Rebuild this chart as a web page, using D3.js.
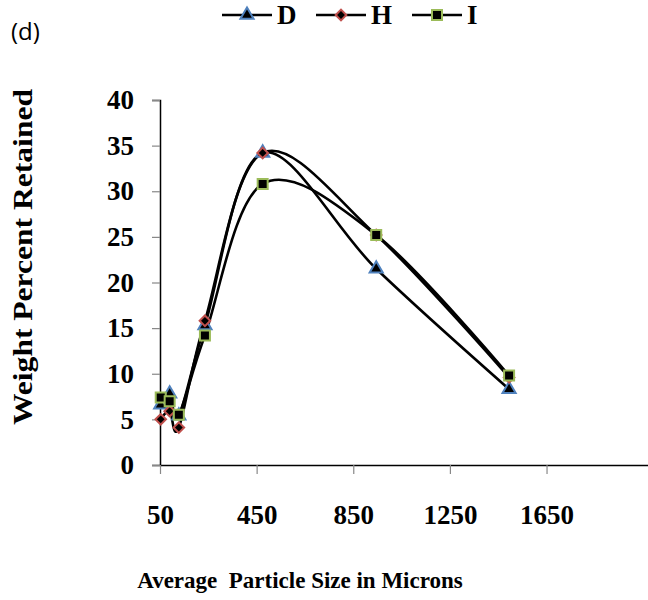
<!DOCTYPE html>
<html>
<head>
<meta charset="utf-8">
<script src="https://cdn.jsdelivr.net/npm/d3@7"></script>
<style>
  html, body { margin: 0; padding: 0; background: #fff; }
  svg { display: block; }
</style>
</head>
<body>
<svg id="chart" width="648" height="600"></svg>
<script>
// Average particle size (microns) for each sieve fraction
const sizes = [53, 90, 128, 236, 475, 945, 1495];
// Weight percent retained per sample
const seriesD = [6.6, 7.8, 5.4, 15.3, 34.2, 21.5, 8.3];
const seriesH = [5.0, 5.9, 4.1, 15.8, 34.2, 25.2, 9.6];
const seriesI = [7.4, 7.0, 5.5, 14.2, 30.8, 25.2, 9.8];
const seriesNames = ["D", "H", "I"];
const xTicks = [50, 450, 850, 1250, 1650];
const yTicks = [0, 5, 10, 15, 20, 25, 30, 35, 40];

const svg = d3.select("#chart");
const serif = "'Liberation Serif', 'Times New Roman', serif";

const x = d3.scaleLinear().domain([50, 2070]).range([160, 648]);
const y = d3.scaleLinear().domain([0, 40]).range([465, 100]);

// Panel label
svg.append("text")
  .attr("x", 11).attr("y", 40)
  .attr("font-family", "'Open Sans', 'Noto Sans', sans-serif")
  .attr("font-size", 24)
  .text("(d)");

// Y axis
const yAxis = svg.append("g").attr("transform", "translate(160,0)")
  .call(d3.axisLeft(y).tickValues(yTicks).tickSize(8).tickPadding(18));
yAxis.select(".domain").attr("stroke", "#000").attr("stroke-width", 1.5);
yAxis.selectAll(".tick line").attr("stroke", "#888").attr("stroke-width", 1.2);
yAxis.selectAll(".tick text")
  .attr("font-family", serif).attr("font-weight", "bold")
  .attr("font-size", 27).attr("fill", "#000");

// X axis
const xAxis = svg.append("g").attr("transform", "translate(0,465)")
  .call(d3.axisBottom(x).tickValues(xTicks).tickFormat(d3.format("d"))
    .tickSize(9).tickPadding(31).tickSizeOuter(0));
xAxis.select(".domain").attr("stroke", "#000").attr("stroke-width", 1.5);
xAxis.selectAll(".tick line").attr("stroke", "#888").attr("stroke-width", 1.2);
xAxis.selectAll(".tick text")
  .attr("font-family", serif).attr("font-weight", "bold")
  .attr("font-size", 27).attr("fill", "#000");

// Axis titles
svg.append("text")
  .attr("x", 300).attr("y", 588)
  .attr("text-anchor", "middle")
  .attr("font-family", serif).attr("font-weight", "bold").attr("font-size", 23)
  .attr("xml:space", "preserve")
  .text("Average  Particle Size in Microns");

svg.append("text")
  .attr("transform", "translate(32,257) rotate(-90)")
  .attr("text-anchor", "middle")
  .attr("font-family", serif).attr("font-weight", "bold").attr("font-size", 28)
  .attr("textLength", 336).attr("lengthAdjust", "spacingAndGlyphs")
  .text("Weight Percent Retained");

// Series definitions (diamond = square turned 45°)
const series = [
  { name: seriesNames[0], values: seriesD, shape: d3.symbolTriangle, size: 75, rot: 0, stroke: "#4F81BD" },
  { name: seriesNames[1], values: seriesH, shape: d3.symbolSquare, size: 56, rot: 45, stroke: "#C0504D" },
  { name: seriesNames[2], values: seriesI, shape: d3.symbolSquare, size: 100, rot: 0, stroke: "#9BBB59" }
];

const line = d3.line()
  .x((d, i) => x(sizes[i]))
  .y(d => y(d))
  .curve(d3.curveCardinal.tension(0));

const plot = svg.append("g");
series.forEach(s => {
  plot.append("path")
    .datum(s.values)
    .attr("fill", "none")
    .attr("stroke", "#000")
    .attr("stroke-width", 2.6)
    .attr("d", line);
});

series.forEach(s => {
  plot.selectAll(null)
    .data(s.values)
    .join("path")
    .attr("transform", (d, i) => `translate(${x(sizes[i])},${y(d)}) rotate(${s.rot})`)
    .attr("d", d3.symbol().type(s.shape).size(s.size))
    .attr("fill", "#000")
    .attr("stroke", s.stroke)
    .attr("stroke-width", 2);
});

// Legend
const legendX = [222, 316, 412];
const legend = svg.append("g");
series.forEach((s, i) => {
  const g = legend.append("g").attr("transform", `translate(${legendX[i]},15)`);
  g.append("line").attr("x1", 0).attr("x2", 50).attr("y1", 0).attr("y2", 0)
    .attr("stroke", "#000").attr("stroke-width", 2.6);
  g.append("path").attr("transform", `translate(25,0) rotate(${s.rot})`)
    .attr("d", d3.symbol().type(s.shape).size(s.size))
    .attr("fill", "#000").attr("stroke", s.stroke).attr("stroke-width", 2);
  g.append("text").attr("x", 55).attr("y", 9)
    .attr("font-family", serif).attr("font-weight", "bold").attr("font-size", 27)
    .text(s.name);
});
</script>
</body>
</html>
